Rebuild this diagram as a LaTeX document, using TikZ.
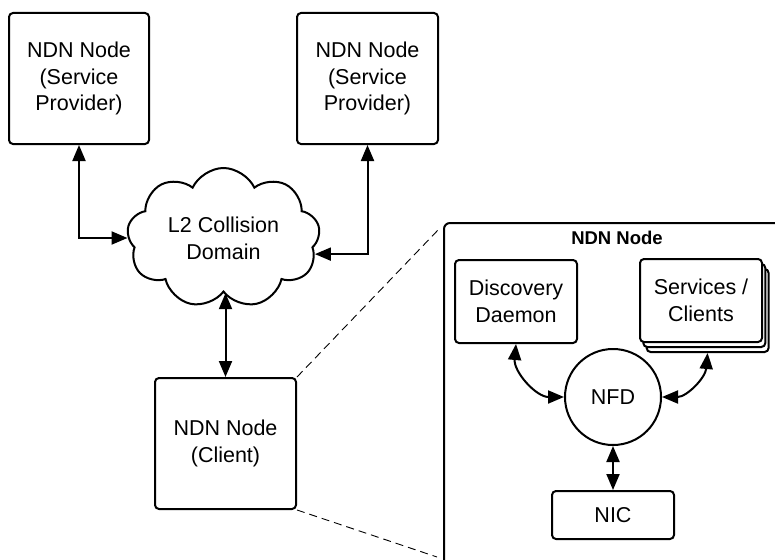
\documentclass[tikz,border=0pt]{standalone}
\usepackage{fontspec}
\setmainfont{Liberation Sans}
\usetikzlibrary{positioning}
\usetikzlibrary{shapes.symbols}
\usetikzlibrary{arrows.meta}

\begin{document}
\begin{tikzpicture}[
            x = 1pt, y = -1pt, % pixel grid, y downwards
            > = {Triangle[length=16pt,width=13pt]}, % arrow head style
            line width = 2pt, % line style
            every node/.style = {font=\fontsize{21.5}{26.7}\selectfont}
            ]

        \tikzstyle{box}=[
            draw,
            fill = white,
            rounded corners = 4pt,
            align = center,
            inner sep = 0pt
        ]
        \tikzstyle{zoomline}=[
            dashed,
            line width = 0.9pt,
            dash pattern = on 8pt off 5pt
        ]

        \useasboundingbox (0,0) rectangle (775,559);
        \clip (0,0) rectangle (775,559);

	% network level
	\node[box, minimum width=140pt, minimum height=131pt] (SP1) at (79,78.5) {NDN Node\\(Service\\Provider)};
	\node[box, minimum width=141pt, minimum height=131pt] (SP2) [right=146pt of SP1] {NDN Node\\(Service\\Provider)};

	\node[cloud, draw, cloud puffs=9, cloud puff arc=130, aspect=1.4,
	      minimum width=193pt, minimum height=140pt, align=center, inner sep=0pt] (L2) at (223.5,238) {L2 Collision\\Domain};

	\node[box, minimum width=141pt, minimum height=131pt] (CN) at (225.5,443.5) {NDN Node\\(Client)};

	\path[<->] (SP1.south) edge[to path={|- (\tikztotarget)}] (L2.west);
	\path[<->] (SP2.south) edge[to path={|- (\tikztotarget)}] (L2.-10);
	\draw[<->] (CN.north |- L2.south) -- (CN.north);

	% inside the client
	\node[draw, rounded corners=6pt, minimum width=360pt, minimum height=360pt, anchor=north west] (BIG) at (443,222) {};
	\node[font=\bfseries\fontsize{18.5}{22}\selectfont] (T) at (617,238) {NDN Node};

	\node[box, minimum width=122pt, minimum height=83pt] (DD) at (516,301.5) {Discovery\\Daemon};

	\node[box, minimum width=122pt, minimum height=83pt] (SC2) at (707.6,310.5) {};
	\node[box, minimum width=122pt, minimum height=83pt] (SC1) at (704.3,305.5) {};
	\node[box, minimum width=122pt, minimum height=83pt] (SC) at (701,300.5) {Services /\\Clients};

	\node[draw, circle, minimum size=96pt, inner sep=0pt] (NFD) at (613,397) {NFD};
	\node[box, minimum width=122pt, minimum height=48pt] (NIC) [below=44pt of NFD] {NIC};

	\draw[<->] (DD.south) to[out=-95, in=180] (NFD.west);
	\draw[<->] (SC2.south) to[out=-95, in=0] (NFD.east);
	\draw[<->] (NFD) -- (NIC);

	% zoom lines
	\coordinate (zt) at (439,229);
	\coordinate (zb) at (437,557);
	\draw[zoomline] (CN.north east) -- (zt);
	\draw[zoomline] (CN.south east) -- (zb);

\end{tikzpicture}
\end{document}
